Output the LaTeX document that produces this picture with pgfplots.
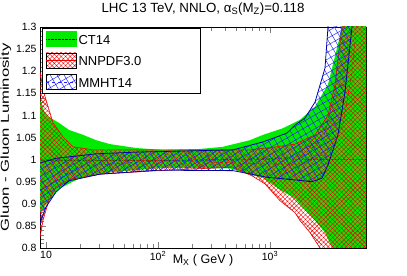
\documentclass[border=0pt]{standalone}
\usepackage{fontspec}
\setmainfont{Liberation Sans}
\newfontfamily\ylabfont{Liberation Sans}[FakeStretch=1.45]
\usepackage{pgfplots}
\pgfplotsset{compat=1.18}
\usepgfplotslibrary{fillbetween}
\usetikzlibrary{patterns.meta}
\definecolor{ctgreen}{RGB}{0,235,0}
\definecolor{nnred}{RGB}{240,0,0}
\definecolor{mmblue}{RGB}{30,30,255}
\definecolor{mmedge}{RGB}{0,0,170}
\begin{document}
\begin{tikzpicture}
\begin{axis}[
  scale only axis, width=326pt, height=221pt,
  xmode=log, xmin=8.83, xmax=7200, ymin=0.8, ymax=1.3,
  xtick={10,100,1000}, xticklabels={10,10\textsuperscript{2},10\textsuperscript{3}},
  ytick={0.8,0.85,0.9,0.95,1,1.05,1.1,1.15,1.2,1.25,1.3},
  yticklabels={0.8,0.85,0.9,0.95,1,1.05,1.1,1.15,1.2,1.25,1.3},
  minor y tick num=4,
  tick align=inside, major tick length=6pt, minor tick length=4pt,
  tick style={line width=0.4pt},
  tick label style={font=\fontsize{10.5}{12}\selectfont},
  title={\fontsize{13.3}{15}\selectfont LHC 13 TeV, NNLO, α\textsubscript{S}(M\textsubscript{Z})=0.118},
  title style={at={(0.5,1)}, anchor=south, yshift=2pt},
  xlabel={\fontsize{12.5}{14}\selectfont M\textsubscript{X} ( GeV )},
  xlabel style={at={(axis description cs:0.5,0)}, anchor=north, yshift=-3pt},
  ylabel={\ylabfont Gluon - Gluon Luminosity},
  ylabel style={font=\fontsize{11.5}{13}\selectfont, yshift=-2pt},
  legend style={at={(0.006,0.995)}, anchor=north west, draw=black, fill=white,
    font=\fontsize{13}{15}\selectfont, row sep=5pt, inner xsep=4pt, inner ysep=3pt},
  legend cell align=left,
]
\addlegendimage{legend image code/.code={\fill[ctgreen] (0pt,-6pt) rectangle (30pt,9pt); \draw[black,densely dotted] (0pt,1.5pt)--(30pt,1.5pt);}}
\addlegendentry{CT14}
\addlegendimage{legend image code/.code={\fill[pattern={Hatch[angle=45,distance=3.2pt,line width=0.4pt]},pattern color=nnred] (0pt,-6pt) rectangle (30pt,9pt); \draw[nnred] (0pt,1.5pt)--(30pt,1.5pt);}}
\addlegendentry{\makebox[116pt][l]{NNPDF3.0}}
\addlegendimage{legend image code/.code={\fill[pattern={Hatch[angle=30,distance=6pt,line width=0.45pt]},pattern color=mmblue] (0pt,-6pt) rectangle (30pt,9pt); \draw[mmblue,dashed] (0pt,1.5pt)--(30pt,1.5pt);}}
\addlegendentry{MMHT14}

% CT14
\addplot[draw=none, name path=ctU] coordinates {(8.8,1.135) (9.6,1.11) (10.63,1.096) (13.06,1.083) (16.03,1.067) (21.4,1.056) (27.9,1.044) (37.3,1.035) (64.9,1.026) (110.8,1.022) (237,1.024) (380,1.029) (663,1.044) (866,1.056) (1306,1.071) (1854,1.09) (2523,1.12) (3296,1.17) (4217,1.28) (4487,1.32) (5000,1.6) (7500,1.8)};
\addplot[draw=none, name path=ctL] coordinates {(8.8,0.88) (10.86,0.91) (13.3,0.935) (20.1,0.958) (39.6,0.972) (110.8,0.981) (439,0.98) (705,0.965) (866,0.958) (1228,0.932) (1671,0.912) (1854,0.899) (2523,0.862) (3098,0.835) (3580,0.80) (5000,0.7) (7500,0.55)};
\addplot[fill=ctgreen, draw=none] fill between[of=ctU and ctL];

% NNPDF3.0
\addplot[draw=none, name path=nnU] coordinates {(8.8,1.2) (9.6,1.15) (10.42,1.12) (11.55,1.083) (14.18,1.051) (17.42,1.029) (26.3,1.022) (100,1.022) (663,1.022) (1228,1.03) (1671,1.035) (2523,1.056) (3296,1.10) (3802,1.17) (4395,1.3) (5000,1.45) (7500,1.8)};
\addplot[draw=none, name path=nnL] coordinates {(8.8,0.822) (9.4,0.863) (10.63,0.909) (12.28,0.938) (16.03,0.955) (30.3,0.967) (100,0.975) (468,0.983) (705,0.962) (902,0.945) (1228,0.907) (1671,0.88) (1854,0.862) (2275,0.835) (2795,0.80) (3500,0.7) (7500,0.5)};
\addplot[draw=none, pattern={Hatch[angle=45,distance=3.2pt,line width=0.4pt]}, pattern color=nnred] fill between[of=nnU and nnL];

% MMHT14
\addplot[draw=none, name path=mmU] coordinates {(8.8,0.992) (12.28,1.003) (27.9,1.013) (64.9,1.017) (468,1.022) (866,1.04) (1418,1.06) (1671,1.078) (2054,1.094) (2523,1.13) (3098,1.207) (3296,1.3) (3500,1.4)};
\addplot[draw=none, name path=mmL] coordinates {(8.8,0.855) (10,0.893) (12.28,0.927) (16.03,0.952) (30.3,0.967) (100,0.976) (468,0.975) (940,0.96) (1671,0.954) (2371,0.95) (2912,0.958) (3296,0.988) (4046,1.056) (4677,1.153) (5395,1.3) (5800,1.4)};
\addplot[draw=none, pattern={Hatch[angle=30,distance=6pt,line width=0.45pt]}, pattern color=mmblue] fill between[of=mmU and mmL];

% edges
\addplot[nnred, line width=0.6pt] coordinates {(8.8,1.2) (9.6,1.15) (10.42,1.12) (11.55,1.083) (14.18,1.051) (17.42,1.029) (26.3,1.022) (100,1.022) (663,1.022) (1228,1.03) (1671,1.035) (2523,1.056) (3296,1.10) (3802,1.17) (4395,1.3) (5000,1.45)};
\addplot[nnred, line width=0.6pt] coordinates {(8.8,0.822) (9.4,0.863) (10.63,0.909) (12.28,0.938) (16.03,0.955) (30.3,0.967) (100,0.975) (468,0.983) (705,0.962) (902,0.945) (1228,0.907) (1671,0.88) (1854,0.862) (2275,0.835) (2795,0.80) (3500,0.7)};
\addplot[mmedge, line width=0.8pt] coordinates {(8.8,0.992) (12.28,1.003) (27.9,1.013) (64.9,1.017) (468,1.022) (866,1.04) (1418,1.06) (1671,1.078) (2054,1.094) (2523,1.13) (3098,1.207) (3296,1.3) (3500,1.4)};
\addplot[mmedge, line width=0.8pt] coordinates {(8.8,0.855) (10,0.893) (12.28,0.927) (16.03,0.952) (30.3,0.967) (100,0.976) (468,0.975) (940,0.96) (1671,0.954) (2371,0.95) (2912,0.958) (3296,0.988) (4046,1.056) (4677,1.153) (5395,1.3) (5800,1.4)};

% central values
\addplot[black, densely dotted, line width=0.5pt] coordinates {(8.8,0.998) (100,0.998) (1000,1.002) (3000,1.0) (7500,1.0)};
\addplot[nnred, dashed, line width=0.5pt] coordinates {(8.8,1.0) (100,0.998) (1000,0.99) (2000,0.99) (3500,1.02) (4500,1.08) (5400,1.2) (6000,1.32)};
\addplot[mmblue, dashed, line width=0.5pt] coordinates {(8.8,0.93) (20,0.985) (100,0.997) (1000,1.0) (2000,1.01) (3000,1.05) (3800,1.15) (4300,1.3)};

\coordinate (SW) at (rel axis cs:0,0);
\coordinate (NE) at (rel axis cs:1,1);
\end{axis}
\pgfresetboundingbox
\path ([xshift=-40pt,yshift=-28pt]SW) rectangle ([xshift=41pt,yshift=27pt]NE);
\end{tikzpicture}
\end{document}
